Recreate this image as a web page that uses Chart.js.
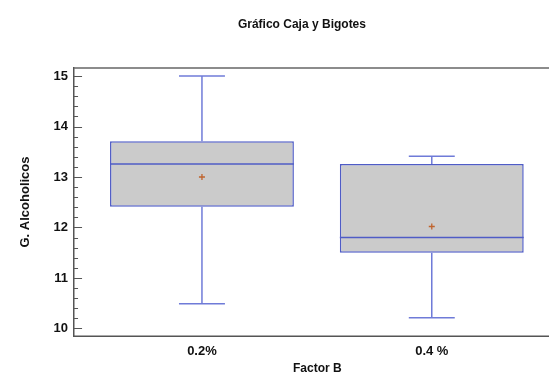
<!DOCTYPE html>
<html>
<head>
<meta charset="utf-8">
<script src="https://cdn.jsdelivr.net/npm/chart.js@4/dist/chart.umd.min.js"></script>
<style>
  html, body { margin: 0; padding: 0; background: #ffffff; }
  #wrap { width: 549px; height: 376px; position: relative; }
</style>
</head>
<body>
<div id="wrap"><canvas id="c"></canvas></div>
<script>
// Box-and-whisker summary of "G. Alcoholicos" by level of Factor B
const categories = ['0.2%', '0.4 %'];
const positions  = [1, 2];
const minVals    = [10.49, 10.21];
const q1Vals     = [12.41, 11.50];
const medianVals = [13.26, 11.80];
const q3Vals     = [13.71, 13.26];
const maxVals    = [15.00, 13.41];
const meanVals   = [13.00, 12.02];
const yTickValues = [10, 11, 12, 13, 14, 15];

const titleText = 'Gráfico Caja y Bigotes';
const xTitleText = 'Factor B';
const boxHalf = 0.4;
const capHalf = 0.1;
const boxBlue = '#4f5cc6';
const whiskerBlue = '#6f7bd8';
const axisGrey = '#555555';
const FONT = '"Liberation Sans", Arial, sans-serif';

function segment(x1, y1, x2, y2, color) {
  return {
    type: 'line',
    data: [{ x: x1, y: y1 }, { x: x2, y: y2 }],
    borderColor: color,
    borderWidth: 1.5,
    pointRadius: 0,
    pointHoverRadius: 0,
    fill: false,
    tension: 0,
    order: 2
  };
}

const datasets = [];
// boxes: interquartile range as floating bars
datasets.push({
  type: 'bar',
  data: positions.map((p, i) => ({ x: p, y: [q1Vals[i], q3Vals[i]] })),
  backgroundColor: '#cbcbcb',
  borderColor: boxBlue,
  borderWidth: 1.5,
  borderSkipped: false,
  categoryPercentage: 1.0,
  barPercentage: 0.8,
  order: 3
});
positions.forEach((p, i) => {
  datasets.push(segment(p, q3Vals[i], p, maxVals[i], whiskerBlue));
  datasets.push(segment(p - capHalf, maxVals[i], p + capHalf, maxVals[i], whiskerBlue));
  datasets.push(segment(p, q1Vals[i], p, minVals[i], whiskerBlue));
  datasets.push(segment(p - capHalf, minVals[i], p + capHalf, minVals[i], whiskerBlue));
  const med = segment(p - boxHalf, medianVals[i], p + boxHalf, medianVals[i], boxBlue);
  med.order = 1;
  datasets.push(med);
});
// mean markers
datasets.push({
  type: 'line',
  showLine: false,
  data: positions.map((p, i) => ({ x: p, y: meanVals[i] })),
  pointStyle: 'cross',
  pointRadius: 3,
  borderColor: '#c0642e',
  pointBorderWidth: 1.3,
  order: 0
});

// inward major/minor ticks on the value axis, open frame edges, headings
const framePlugin = {
  id: 'frame',
  afterDraw(chart) {
    const { ctx, chartArea, scales } = chart;
    ctx.save();
    ctx.strokeStyle = axisGrey;
    ctx.lineWidth = 1;
    for (let k = 100; k <= 150; k += 2) {
      const v = k / 10;
      const y = Math.round(scales.y.getPixelForValue(v)) + 0.5;
      const len = (k % 10 === 0) ? 8 : 4;
      ctx.beginPath();
      ctx.moveTo(chartArea.left, y);
      ctx.lineTo(chartArea.left + len, y);
      ctx.stroke();
    }
    // frame top and bottom run on past the right edge of the canvas
    ctx.lineWidth = 1.5;
    ctx.strokeStyle = '#666666';
    ctx.beginPath();
    ctx.moveTo(chartArea.left, chartArea.top);
    ctx.lineTo(chart.width, chartArea.top);
    ctx.stroke();
    ctx.strokeStyle = axisGrey;
    ctx.beginPath();
    ctx.moveTo(chartArea.left - 0.75, Math.round(chartArea.bottom) + 0.25);
    ctx.lineTo(chart.width, Math.round(chartArea.bottom) + 0.25);
    ctx.stroke();

    ctx.fillStyle = '#111111';
    ctx.font = 'bold 12px ' + FONT;
    ctx.textAlign = 'center';
    ctx.textBaseline = 'middle';
    ctx.fillText(titleText, chart.width * 0.55, 24.5);
    ctx.fillText(xTitleText, chart.width * 0.578, chartArea.bottom + 32.5);
    ctx.restore();
  }
};

new Chart(document.getElementById('c'), {
  type: 'bar',
  data: { datasets },
  plugins: [framePlugin],
  options: {
    responsive: true,
    maintainAspectRatio: false,
    animation: false,
    layout: { padding: { left: 18, right: -13, top: 68, bottom: 8.4 } },
    plugins: {
      legend: { display: false },
      tooltip: { enabled: false },
      title: { display: false }
    },
    scales: {
      x: {
        type: 'linear',
        offset: false,
        min: 0.4435,
        max: 2.487,
        afterBuildTicks(scale) {
          scale.ticks = positions.map(v => ({ value: v }));
        },
        ticks: {
          padding: 8,
          color: '#111111',
          font: { family: FONT, size: 13, weight: 'bold' },
          callback(value) {
            const idx = positions.indexOf(value);
            return idx >= 0 ? categories[idx] : '';
          }
        },
        grid: { display: false, drawTicks: false },
        border: { display: false },
        title: { display: false }
      },
      y: {
        type: 'linear',
        min: 9.85,
        max: 15.16,
        afterBuildTicks(scale) {
          scale.ticks = yTickValues.map(v => ({ value: v }));
        },
        ticks: {
          padding: 6,
          color: '#111111',
          font: { family: FONT, size: 13, weight: 'bold' }
        },
        grid: { display: false, drawTicks: false },
        border: { display: true, color: axisGrey, width: 1.5 },
        title: {
          display: true,
          text: 'G. Alcoholicos',
          color: '#111111',
          font: { family: FONT, size: 13, weight: 'bold' },
          padding: { top: 0, bottom: 14 }
        }
      }
    }
  }
});
</script>
</body>
</html>
